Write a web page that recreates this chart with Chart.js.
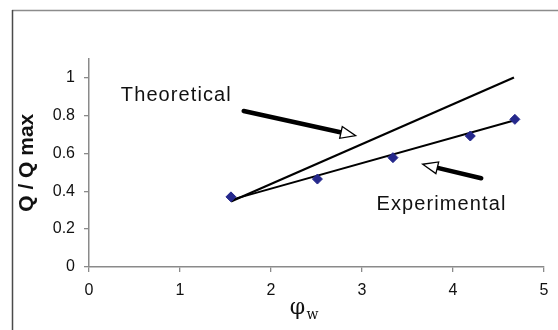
<!DOCTYPE html>
<html>
<head>
<meta charset="utf-8">
<script src="https://cdn.jsdelivr.net/npm/chart.js@4.4.0/dist/chart.umd.min.js"></script>
<style>
    html, body { margin: 0; padding: 0; background: #fff; }
    #wrap { width: 558px; height: 330px; }
</style>
</head>
<body>
<div id="wrap"><canvas id="chart" width="558" height="330"></canvas></div>
<script>
// measured points
const phiW = [1.56, 2.51, 3.34, 4.19, 4.68];
const qRatio = [0.37, 0.464, 0.577, 0.691, 0.779];

// straight lines: fit through measurements, and theory
const fitX = [1.56, 4.66];
const fitY = [0.354, 0.772];
const theoX = [1.56, 4.67];
const theoY = [0.345, 1.0];

// axis ranges
const xRange = [0, 5];
const yRange = [0, 1.1];

// callout labels (left edge, baseline) and arrows (tail -> tip), in data units
const noteLabels = ["Theoretical", "Experimental"];
const noteX = [0.35, 3.16];
const noteY = [0.878, 0.301];
const arrowTailX = [1.70, 4.31];
const arrowTailY = [0.823, 0.468];
const arrowTipX = [2.93, 3.667];
const arrowTipY = [0.693, 0.542];

const tickFont = { family: "'Liberation Sans', Arial, sans-serif", size: 16 };

function drawArrow(ctx, x1, y1, x2, y2) {
    const ang = Math.atan2(y2 - y1, x2 - x1);
    const headLen = 15, headW = 6;
    const bx = x2 - headLen * Math.cos(ang);
    const by = y2 - headLen * Math.sin(ang);
    ctx.save();
    ctx.strokeStyle = "#000";
    ctx.lineCap = "round";
    ctx.lineWidth = 4.5;
    ctx.beginPath();
    ctx.moveTo(x1, y1);
    ctx.lineTo(bx + 4 * Math.cos(ang), by + 4 * Math.sin(ang));
    ctx.stroke();
    ctx.lineWidth = 1.3;
    ctx.lineJoin = "miter";
    ctx.beginPath();
    ctx.moveTo(x2, y2);
    ctx.lineTo(bx - headW * Math.sin(ang), by + headW * Math.cos(ang));
    ctx.lineTo(bx + headW * Math.sin(ang), by - headW * Math.cos(ang));
    ctx.closePath();
    ctx.fillStyle = "#fff";
    ctx.fill();
    ctx.stroke();
    ctx.restore();
}

const extras = {
    id: "extras",
    beforeDraw(chart) {
        const ctx = chart.ctx;
        ctx.save();
        ctx.lineWidth = 1.5;
        ctx.strokeStyle = "#8c8c8c";
        ctx.beginPath();
        ctx.moveTo(12, 10.5);
        ctx.lineTo(chart.width, 10.5);
        ctx.stroke();
        ctx.strokeStyle = "#4a4a4a";
        ctx.beginPath();
        ctx.moveTo(12.5, 10);
        ctx.lineTo(12.5, chart.height);
        ctx.stroke();
        ctx.restore();
    },
    afterDatasetsDraw(chart) {
        const ctx = chart.ctx;
        const xs = chart.scales.x, ys = chart.scales.y;

        for (let i = 0; i < arrowTailX.length; i++) {
            drawArrow(ctx,
                xs.getPixelForValue(arrowTailX[i]), ys.getPixelForValue(arrowTailY[i]),
                xs.getPixelForValue(arrowTipX[i]), ys.getPixelForValue(arrowTipY[i]));
        }

        ctx.save();
        ctx.fillStyle = "#111";
        ctx.font = "20px 'Liberation Sans', Arial, sans-serif";
        ctx.letterSpacing = "1.1px";
        ctx.textBaseline = "alphabetic";
        ctx.textAlign = "left";
        noteLabels.forEach((t, i) => {
            ctx.fillText(t, xs.getPixelForValue(noteX[i]), ys.getPixelForValue(noteY[i]));
        });

        // x axis title: phi with subscript w
        const cx = (chart.chartArea.left + chart.chartArea.right) / 2;
        ctx.letterSpacing = "0px";
        ctx.font = "22px 'DejaVu Serif', serif";
        ctx.textAlign = "center";
        ctx.fillText("φ", cx - 19, 314);
        ctx.font = "14px 'DejaVu Serif', serif";
        ctx.textAlign = "left";
        ctx.fillText("w", cx - 10, 319);
        ctx.restore();
    }
};

new Chart(document.getElementById("chart"), {
    type: "scatter",
    data: {
        datasets: [
            {
                label: "Experimental",
                data: phiW.map((x, i) => ({ x: x, y: qRatio[i] })),
                pointStyle: "rectRot",
                pointRadius: 5,
                pointBackgroundColor: "#25288c",
                pointBorderColor: "#25288c",
                showLine: false
            },
            {
                label: "Fit",
                data: fitX.map((x, i) => ({ x: x, y: fitY[i] })),
                showLine: true,
                borderColor: "#000",
                borderWidth: 2,
                pointRadius: 0
            },
            {
                label: "Theoretical",
                data: theoX.map((x, i) => ({ x: x, y: theoY[i] })),
                showLine: true,
                borderColor: "#000",
                borderWidth: 2.2,
                pointRadius: 0
            }
        ]
    },
    options: {
        responsive: false,
        animation: false,
        layout: { padding: { top: 58.5, left: 12, right: 14, bottom: 0 } },
        plugins: {
            legend: { display: false },
            tooltip: { enabled: false }
        },
        scales: {
            x: {
                type: "linear",
                min: xRange[0],
                max: xRange[1],
                afterFit: s => { s.height = 63; },
                ticks: { stepSize: 1, font: tickFont, color: "#111", padding: 9, maxRotation: 0 },
                grid: { drawOnChartArea: false, drawTicks: true, tickLength: 5, color: "#8a8a8a", lineWidth: 1.3 },
                border: { color: "#8a8a8a", width: 1.5 }
            },
            y: {
                min: yRange[0],
                max: yRange[1],
                afterFit: s => { s.width = 77; },
                ticks: {
                    stepSize: 0.2,
                    includeBounds: false,
                    font: tickFont,
                    color: "#111",
                    padding: 9,
                    callback: v => String(Math.round(v * 10) / 10)
                },
                grid: { drawOnChartArea: false, drawTicks: true, tickLength: 5, color: "#8a8a8a", lineWidth: 1.3 },
                border: { color: "#8a8a8a", width: 1.5 },
                title: {
                    display: true,
                    text: "Q / Q max",
                    color: "#111",
                    font: { family: "'Liberation Sans', Arial, sans-serif", size: 21, weight: "bold" },
                    padding: { top: 3, bottom: 0 }
                }
            }
        }
    },
    plugins: [extras]
});
</script>
</body>
</html>
